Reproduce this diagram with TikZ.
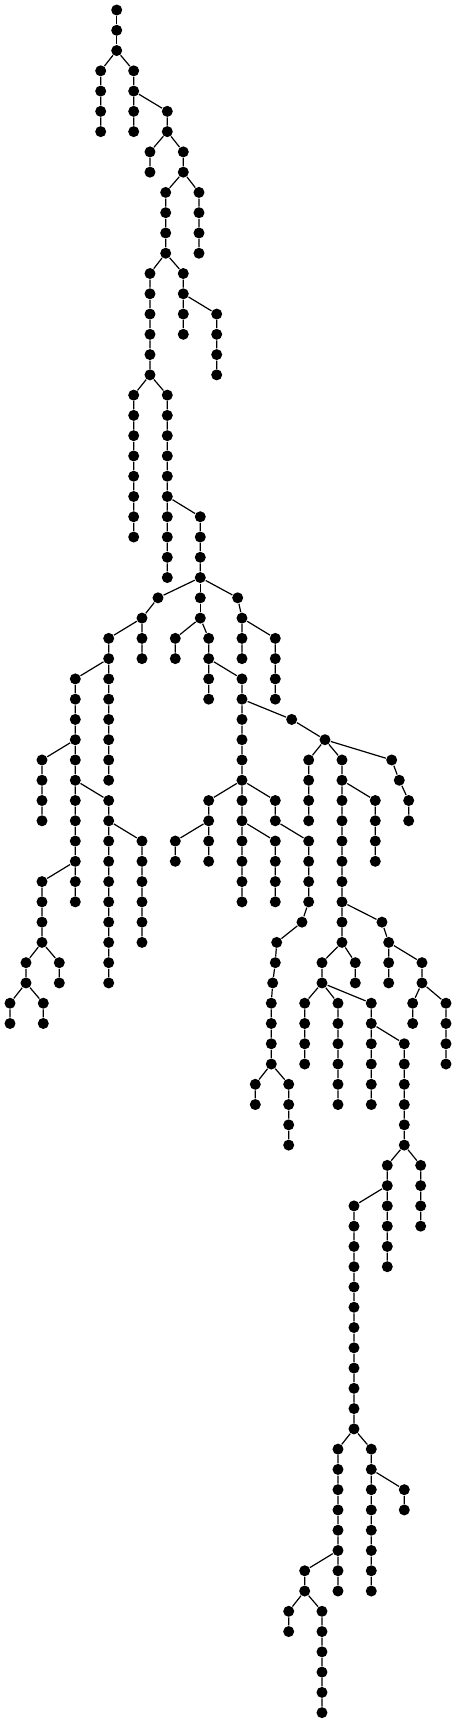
\documentclass[tikz,border=0pt]{standalone}
\usepackage{amsmath}
\usepackage{xcolor}
\usepackage{tikz}
\usetikzlibrary{calc}
\tikzset{dot/.style={circle,fill=black,inner sep=0pt,minimum size=5.5pt}}

\begin{document}
\begin{tikzpicture}[x=0.5pt,y=-10.135pt,line width=0.6pt]
    \useasboundingbox (0,-0.4933) rectangle (456,84.5116);

    % upper part
    \draw (116.7,0) node[dot](a0){} (116.7,1) node[dot](a1){} (116.7,2) node[dot](a2){};
    \draw (100.7,3) node[dot](b3){} (100.7,4) node[dot](b4){} (100.7,5) node[dot](b5){} (100.7,6) node[dot](b6){};
    \draw (133.7,3) node[dot](c3){} (133.7,4) node[dot](c4){} (133.7,5) node[dot](c5){} (133.7,6) node[dot](c6){};
    \draw (167.3,5) node[dot](d5){} (167.3,6) node[dot](d6){};
    \draw (150,7) node[dot](e7){} (150,8) node[dot](e8){};
    \draw (183.3,7) node[dot](f7){} (183.3,8) node[dot](f8){};
    \draw (199,9) node[dot](g9){} (199,10) node[dot](g10){} (199,11) node[dot](g11){} (199,12) node[dot](g12){};
    \draw (165.7,9) node[dot](h9){} (165.7,10) node[dot](h10){} (165.7,11) node[dot](h11){} (165.7,12) node[dot](h12){};
    \draw (150,13) node[dot](i13){} (150,14) node[dot](i14){} (150,15) node[dot](i15){} (150,16) node[dot](i16){}
          (150,17) node[dot](i17){} (150,18) node[dot](i18){};
    \draw (183.3,13) node[dot](j13){} (183.3,14) node[dot](j14){} (183.3,15) node[dot](j15){} (183.3,16) node[dot](j16){};
    \draw (216.7,15) node[dot](k15){} (216.7,16) node[dot](k16){} (216.7,17) node[dot](k17){} (216.7,18) node[dot](k18){};
    \draw (133.7,19) node[dot](l19){} (133.7,20) node[dot](l20){} (133.7,21) node[dot](l21){} (133.7,22) node[dot](l22){}
          (133.7,23) node[dot](l23){} (133.7,24) node[dot](l24){} (133.7,25) node[dot](l25){} (133.7,26) node[dot](l26){};
    \draw (167.3,19) node[dot](m19){} (167.3,20) node[dot](m20){} (167.3,21) node[dot](m21){} (167.3,22) node[dot](m22){}
          (167.3,23) node[dot](m23){} (167.3,24) node[dot](m24){} (167.3,25) node[dot](m25){} (167.3,26) node[dot](m26){}
          (167.3,27) node[dot](m27){} (167.3,28) node[dot](m28){};
    \draw (200.3,25) node[dot](n25){} (200.3,26) node[dot](n26){} (200.3,27) node[dot](n27){} (200.3,28) node[dot](n28){};

    % left part
    \draw (158,29) node[dot](o29){} (142,30) node[dot](o30){} (142,31) node[dot](o31){} (142,32) node[dot](o32){};
    \draw (108.7,31) node[dot](q31){} (108.7,32) node[dot](q32){} (108.7,33) node[dot](q33){} (108.7,34) node[dot](q34){}
          (108.7,35) node[dot](q35){} (108.7,36) node[dot](q36){} (108.7,37) node[dot](q37){} (108.7,38) node[dot](q38){};
    \draw (75.3,33) node[dot](r33){} (75.3,34) node[dot](r34){} (75.3,35) node[dot](r35){} (75.3,36) node[dot](r36){}
          (75.3,37) node[dot](r37){} (75.3,38) node[dot](r38){} (75.3,39) node[dot](r39){} (75.3,40) node[dot](r40){}
          (75.3,41) node[dot](r41){} (75.3,42) node[dot](r42){} (75.3,43) node[dot](r43){} (75.3,44) node[dot](r44){};
    \draw (42,37) node[dot](s37){} (42,38) node[dot](s38){} (42,39) node[dot](s39){} (42,40) node[dot](s40){};
    \draw (108.7,39) node[dot](t39){} (108.7,40) node[dot](t40){} (108.7,41) node[dot](t41){} (108.7,42) node[dot](t42){}
          (108.7,43) node[dot](t43){} (108.7,44) node[dot](t44){} (108.7,45) node[dot](t45){} (108.7,46) node[dot](t46){}
          (108.7,47) node[dot](t47){} (108.7,48) node[dot](t48){};
    \draw (142,41) node[dot](w41){} (142,42) node[dot](w42){} (142,43) node[dot](w43){} (142,44) node[dot](w44){}
          (142,45) node[dot](w45){} (142,46) node[dot](w46){};
    \draw (42,43) node[dot](u43){} (42,44) node[dot](u44){} (42,45) node[dot](u45){} (42,46) node[dot](u46){};
    \draw (26,47) node[dot](v47){} (26,48) node[dot](v48){};
    \draw (59.3,47) node[dot](x47){} (59.3,48) node[dot](x48){};
    \draw (10,49) node[dot](y49){} (10,50) node[dot](y50){};
    \draw (43.3,49) node[dot](z49){} (43.3,50) node[dot](z50){};

    % middle part
    \draw (200.3,29) node[dot](qa29){} (200.3,30) node[dot](qa30){};
    \draw (175.3,31) node[dot](qb31){} (175.3,32) node[dot](qb32){};
    \draw (208.7,31) node[dot](qc31){} (208.7,32) node[dot](qc32){} (208.7,33) node[dot](qc33){} (208.7,34) node[dot](qc34){};
    \draw (242,33) node[dot](qd33){} (242,34) node[dot](qd34){} (242,35) node[dot](qd35){} (242,36) node[dot](qd36){}
          (242,37) node[dot](qd37){} (242,38) node[dot](qd38){} (242,39) node[dot](qd39){} (242,40) node[dot](qd40){}
          (242,41) node[dot](qd41){} (242,42) node[dot](qd42){} (242,43) node[dot](qd43){} (242,44) node[dot](qd44){};
    \draw (208.7,39) node[dot](qf39){} (208.7,40) node[dot](qf40){} (208.7,41) node[dot](qf41){} (208.7,42) node[dot](qf42){};
    \draw (175.3,41) node[dot](qi41){} (175.3,42) node[dot](qi42){};
    \draw (275.3,41) node[dot](qh41){} (275.3,42) node[dot](qh42){} (275.3,43) node[dot](qh43){} (275.3,44) node[dot](qh44){};
    \draw (275.3,39) node[dot](qg39){} (275.3,40) node[dot](qg40){} (308.7,41) node[dot](qg41){} (308.7,42) node[dot](qg42){}
          (308.7,43) node[dot](qg43){} (308.7,44) node[dot](qg44){} (302,45) node[dot](qg45){} (276.7,46) node[dot](qg46){}
          (275.3,47) node[dot](qg47){} (272.7,48) node[dot](qg48){} (271.3,49) node[dot](qg49){} (271.3,50) node[dot](qg50){}
          (271.3,51) node[dot](qg51){} (271.3,52) node[dot](qg52){};
    \draw (255.3,53) node[dot](qj53){} (255.3,54) node[dot](qj54){};
    \draw (288.7,53) node[dot](qk53){} (288.7,54) node[dot](qk54){} (288.7,55) node[dot](qk55){} (288.7,56) node[dot](qk56){};
    \draw (237.7,29) node[dot](sa29){} (242,30) node[dot](sa30){} (242,31) node[dot](sa31){} (242,32) node[dot](sa32){};
    \draw (275.3,31) node[dot](sb31){} (275.3,32) node[dot](sb32){} (275.3,33) node[dot](sb33){} (275.3,34) node[dot](sb34){};

    % right part
    \draw (291.7,35) node[dot](qe35){} (325,36) node[dot](qe36){};
    \draw (308.7,37) node[dot](ra37){} (308.7,38) node[dot](ra38){} (308.7,39) node[dot](ra39){} (308.7,40) node[dot](ra40){};
    \draw (342,37) node[dot](rb37){} (342,38) node[dot](rb38){} (342,39) node[dot](rb39){} (342,40) node[dot](rb40){}
          (342,41) node[dot](rb41){} (342,42) node[dot](rb42){} (342,43) node[dot](rb43){} (342,44) node[dot](rb44){}
          (342,45) node[dot](rb45){} (342,46) node[dot](rb46){};
    \draw (391.7,37) node[dot](rc37){} (399.3,38) node[dot](rc38){} (408.7,39) node[dot](rc39){} (408.7,40) node[dot](rc40){};
    \draw (375.3,39) node[dot](rd39){} (375.3,40) node[dot](rd40){} (375.3,41) node[dot](rd41){} (375.3,42) node[dot](rd42){};
    \draw (382,45) node[dot](re45){} (388.7,46) node[dot](re46){} (388.7,47) node[dot](re47){} (388.7,48) node[dot](re48){};
    \draw (422,47) node[dot](rf47){} (422,48) node[dot](rf48){};
    \draw (412.7,49) node[dot](rg49){} (412.7,50) node[dot](rg50){};
    \draw (446,49) node[dot](rh49){} (446,50) node[dot](rh50){} (446,51) node[dot](rh51){} (446,52) node[dot](rh52){};
    \draw (355.3,47) node[dot](ri47){} (355.3,48) node[dot](ri48){};
    \draw (322,47) node[dot](rj47){} (322,48) node[dot](rj48){};
    \draw (304.7,49) node[dot](rk49){} (304.7,50) node[dot](rk50){} (304.7,51) node[dot](rk51){} (304.7,52) node[dot](rk52){};
    \draw (338,49) node[dot](rl49){} (338,50) node[dot](rl50){} (338,51) node[dot](rl51){} (338,52) node[dot](rl52){}
          (338,53) node[dot](rl53){} (338,54) node[dot](rl54){};
    \draw (371.3,49) node[dot](rm49){} (371.3,50) node[dot](rm50){} (371.3,51) node[dot](rm51){} (371.3,52) node[dot](rm52){}
          (371.3,53) node[dot](rm53){} (371.3,54) node[dot](rm54){};
    \draw (404.3,51) node[dot](rn51){} (404.3,52) node[dot](rn52){} (404.3,53) node[dot](rn53){} (404.3,54) node[dot](rn54){}
          (404.3,55) node[dot](rn55){} (404.3,56) node[dot](rn56){};
    \draw (420.7,57) node[dot](ro57){} (420.7,58) node[dot](ro58){} (420.7,59) node[dot](ro59){} (420.7,60) node[dot](ro60){};
    \draw (387.3,57) node[dot](rp57){} (387.3,58) node[dot](rp58){} (387.3,59) node[dot](rp59){} (387.3,60) node[dot](rp60){}
          (387.3,61) node[dot](rp61){} (387.3,62) node[dot](rp62){};
    \draw (354,59) node[dot](rq59){} (354,60) node[dot](rq60){} (354,61) node[dot](rq61){} (354,62) node[dot](rq62){}
          (354,63) node[dot](rq63){} (354,64) node[dot](rq64){} (354,65) node[dot](rq65){} (354,66) node[dot](rq66){}
          (354,67) node[dot](rq67){} (354,68) node[dot](rq68){} (354,69) node[dot](rq69){} (354,70) node[dot](rq70){};
    \draw (338,71) node[dot](rr71){} (338,72) node[dot](rr72){} (338,73) node[dot](rr73){} (338,74) node[dot](rr74){}
          (338,75) node[dot](rr75){} (338,76) node[dot](rr76){} (338,77) node[dot](rr77){} (338,78) node[dot](rr78){};
    \draw (371.3,71) node[dot](rs71){} (371.3,72) node[dot](rs72){} (371.3,73) node[dot](rs73){} (371.3,74) node[dot](rs74){}
          (371.3,75) node[dot](rs75){} (371.3,76) node[dot](rs76){} (371.3,77) node[dot](rs77){} (371.3,78) node[dot](rs78){};
    \draw (404.3,73) node[dot](rt73){} (404.3,74) node[dot](rt74){};
    \draw (304.7,77) node[dot](ru77){} (304.7,78) node[dot](ru78){};
    \draw (288.7,79) node[dot](rv79){} (288.7,80) node[dot](rv80){};
    \draw (322,79) node[dot](rw79){} (322,80) node[dot](rw80){} (322,81) node[dot](rw81){} (322,82) node[dot](rw82){}
          (322,83) node[dot](rw83){} (322,84) node[dot](rw84){};

    % edges
    \draw (a0) -- (a1) -- (a2);
    \draw (a2) -- (b3) -- (b4) -- (b5) -- (b6);
    \draw (a2) -- (c3) -- (c4) -- (c5) -- (c6);
    \draw (c4) -- (d5) -- (d6);
    \draw (d6) -- (e7) -- (e8);
    \draw (d6) -- (f7) -- (f8);
    \draw (f8) -- (g9) -- (g10) -- (g11) -- (g12);
    \draw (f8) -- (h9) -- (h10) -- (h11) -- (h12);
    \draw (h12) -- (i13) -- (i14) -- (i15) -- (i16) -- (i17) -- (i18);
    \draw (h12) -- (j13) -- (j14) -- (j15) -- (j16);
    \draw (j14) -- (k15) -- (k16) -- (k17) -- (k18);
    \draw (i18) -- (l19) -- (l20) -- (l21) -- (l22) -- (l23) -- (l24) -- (l25) -- (l26);
    \draw (i18) -- (m19) -- (m20) -- (m21) -- (m22) -- (m23) -- (m24) -- (m25) -- (m26) -- (m27) -- (m28);
    \draw (m24) -- (n25) -- (n26) -- (n27) -- (n28);

    \draw (n28) -- (o29) -- (o30) -- (o31) -- (o32);
    \draw (o30) -- (q31) -- (q32) -- (q33) -- (q34) -- (q35) -- (q36) -- (q37) -- (q38);
    \draw (q32) -- (r33) -- (r34) -- (r35) -- (r36) -- (r37) -- (r38) -- (r39) -- (r40) -- (r41) -- (r42) -- (r43) -- (r44);
    \draw (r36) -- (s37) -- (s38) -- (s39) -- (s40);
    \draw (r38) -- (t39) -- (t40) -- (t41) -- (t42) -- (t43) -- (t44) -- (t45) -- (t46) -- (t47) -- (t48);
    \draw (t40) -- (w41) -- (w42) -- (w43) -- (w44) -- (w45) -- (w46);
    \draw (r42) -- (u43) -- (u44) -- (u45) -- (u46);
    \draw (u46) -- (v47) -- (v48);
    \draw (u46) -- (x47) -- (x48);
    \draw (v48) -- (y49) -- (y50);
    \draw (v48) -- (z49) -- (z50);

    \draw (n28) -- (qa29) -- (qa30);
    \draw (qa30) -- (qb31) -- (qb32);
    \draw (qa30) -- (qc31) -- (qc32) -- (qc33) -- (qc34);
    \draw (qc32) -- (qd33) -- (qd34) -- (qd35) -- (qd36) -- (qd37) -- (qd38) -- (qd39) -- (qd40) -- (qd41) -- (qd42) -- (qd43) -- (qd44);
    \draw (qd38) -- (qf39) -- (qf40) -- (qf41) -- (qf42);
    \draw (qf40) -- (qi41) -- (qi42);
    \draw (qd40) -- (qh41) -- (qh42) -- (qh43) -- (qh44);
    \draw (qd38) -- (qg39) -- (qg40) -- (qg41) -- (qg42) -- (qg43) -- (qg44) -- (qg45) -- (qg46) -- (qg47) -- (qg48) -- (qg49) -- (qg50) -- (qg51) -- (qg52);
    \draw (qg52) -- (qj53) -- (qj54);
    \draw (qg52) -- (qk53) -- (qk54) -- (qk55) -- (qk56);
    \draw (n28) -- (sa29) -- (sa30) -- (sa31) -- (sa32);
    \draw (sa30) -- (sb31) -- (sb32) -- (sb33) -- (sb34);

    \draw (qd34) -- (qe35) -- (qe36);
    \draw (qe36) -- (ra37) -- (ra38) -- (ra39) -- (ra40);
    \draw (qe36) -- (rb37) -- (rb38) -- (rb39) -- (rb40) -- (rb41) -- (rb42) -- (rb43) -- (rb44) -- (rb45) -- (rb46);
    \draw (qe36) -- (rc37) -- (rc38) -- (rc39) -- (rc40);
    \draw (rb38) -- (rd39) -- (rd40) -- (rd41) -- (rd42);
    \draw (rb44) -- (re45) -- (re46) -- (re47) -- (re48);
    \draw (re46) -- (rf47) -- (rf48);
    \draw (rf48) -- (rg49) -- (rg50);
    \draw (rf48) -- (rh49) -- (rh50) -- (rh51) -- (rh52);
    \draw (rb46) -- (ri47) -- (ri48);
    \draw (rb46) -- (rj47) -- (rj48);
    \draw (rj48) -- (rk49) -- (rk50) -- (rk51) -- (rk52);
    \draw (rj48) -- (rl49) -- (rl50) -- (rl51) -- (rl52) -- (rl53) -- (rl54);
    \draw (rj48) -- (rm49) -- (rm50) -- (rm51) -- (rm52) -- (rm53) -- (rm54);
    \draw (rm50) -- (rn51) -- (rn52) -- (rn53) -- (rn54) -- (rn55) -- (rn56);
    \draw (rn56) -- (ro57) -- (ro58) -- (ro59) -- (ro60);
    \draw (rn56) -- (rp57) -- (rp58) -- (rp59) -- (rp60) -- (rp61) -- (rp62);
    \draw (rp58) -- (rq59) -- (rq60) -- (rq61) -- (rq62) -- (rq63) -- (rq64) -- (rq65) -- (rq66) -- (rq67) -- (rq68) -- (rq69) -- (rq70);
    \draw (rq70) -- (rr71) -- (rr72) -- (rr73) -- (rr74) -- (rr75) -- (rr76) -- (rr77) -- (rr78);
    \draw (rq70) -- (rs71) -- (rs72) -- (rs73) -- (rs74) -- (rs75) -- (rs76) -- (rs77) -- (rs78);
    \draw (rs72) -- (rt73) -- (rt74);
    \draw (rr76) -- (ru77) -- (ru78);
    \draw (ru78) -- (rv79) -- (rv80);
    \draw (ru78) -- (rw79) -- (rw80) -- (rw81) -- (rw82) -- (rw83) -- (rw84);
\end{tikzpicture}
\end{document}
